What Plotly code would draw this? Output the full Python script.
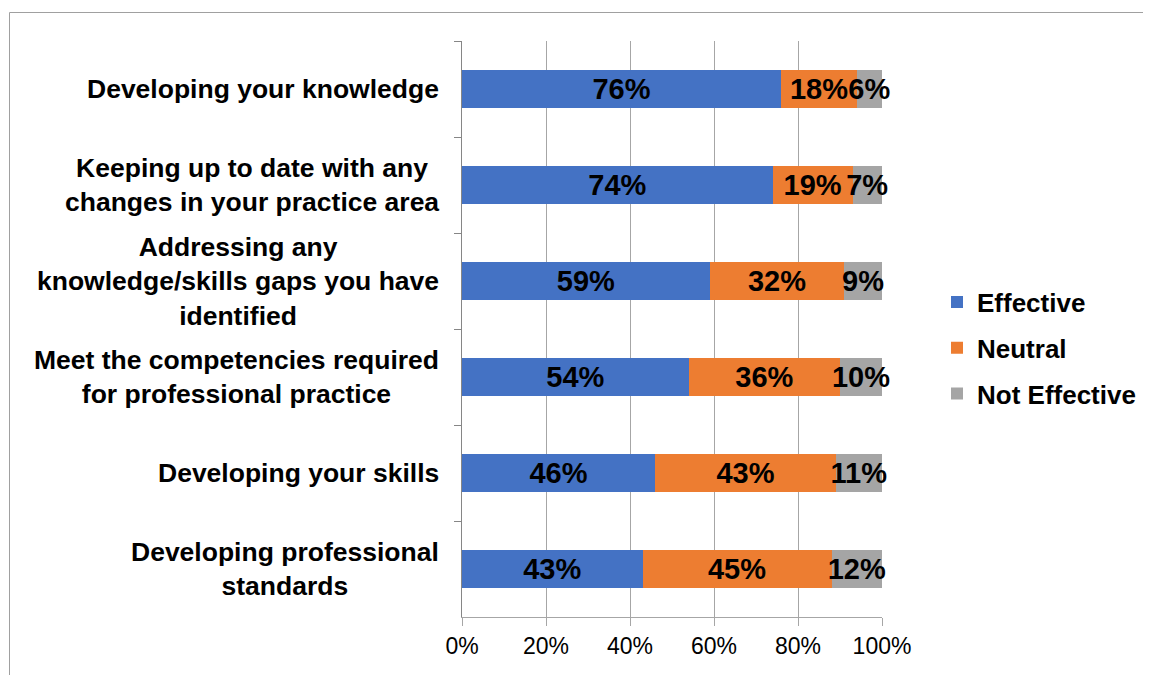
import plotly.graph_objects as go

categories = [
    "Developing your knowledge",
    "Keeping up to date with any<br>changes in your practice area",
    "Addressing any<br>knowledge/skills gaps you have<br>identified",
    "Meet the competencies required<br>for professional practice",
    "Developing your skills",
    "Developing professional<br>standards",
]
effective = [76, 74, 59, 54, 46, 43]
neutral = [18, 19, 32, 36, 43, 45]
not_effective = [6, 7, 9, 10, 11, 12]
series_names = ["Effective", "Neutral", "Not Effective"]
colors = ["#4472C4", "#ED7D31", "#A5A5A5"]
x_ticks = [0, 20, 40, 60, 80, 100]
x_tick_labels = ["0%", "20%", "40%", "60%", "80%", "100%"]

FONT = "Arial, Liberation Sans, sans-serif"

# page body has an 8px margin; target screen positions are offset by it
OFF = 8
W, H = 1151, 675
PL, PR, PT, PB = 462 - OFF, 882 - OFF, 41 - OFF, 617 - OFF
PW, PH = PR - PL, PB - PT

fig = go.Figure()
for name, vals, col in zip(series_names, [effective, neutral, not_effective], colors):
    fig.add_trace(go.Bar(
        y=categories, x=vals, name=name, orientation="h",
        marker=dict(color=col, line=dict(width=0)),
        text=[f"{v}%" for v in vals],
        textposition="inside", insidetextanchor="middle", textangle=0,
        textfont=dict(family=FONT, size=29, color="black", weight="bold"),
        cliponaxis=False, width=0.4, legendgroup=name,
    ))

for c in categories:
    fig.add_annotation(
        x=-21 / PW, xref="paper", y=c, yref="y",
        text=c, showarrow=False, xanchor="right", yanchor="middle", align="center",
        font=dict(family=FONT, size=26.5, color="black", weight="bold"),
    )

# outer chart border
fig.add_shape(type="rect", xref="paper", yref="paper",
              x0=(9.5 - OFF - PL) / PW, x1=2.0, y0=-0.5, y1=1 + (PT - (12.5 - OFF)) / PH,
              line=dict(color="#A0A0A0", width=1), layer="below")

fig.update_layout(
    width=W, height=H,
    margin=dict(l=PL, r=W - PR, t=PT, b=H - PB),
    barmode="stack", bargap=0.6,
    paper_bgcolor="white", plot_bgcolor="white",
    uniformtext=dict(minsize=29, mode="show"),
    showlegend=True,
    legend=dict(
        x=(937 - OFF - PL) / PW, xanchor="left", y=(617 - 348) / 576, yanchor="middle",
        traceorder="grouped", tracegroupgap=9, itemwidth=30,
        font=dict(family=FONT, size=26, color="black", weight="bold"),
        bgcolor="rgba(0,0,0,0)",
    ),
    xaxis=dict(
        range=[0, 100], tickvals=x_ticks, ticktext=x_tick_labels,
        showgrid=True, gridcolor="#A6A6A6", gridwidth=1,
        showline=True, linecolor="#A6A6A6", linewidth=1,
        ticks="outside", ticklen=8, tickcolor="#A6A6A6",
        tickfont=dict(family=FONT, size=23, color="black"),
        zeroline=False, fixedrange=True,
    ),
    yaxis=dict(
        categoryorder="array", categoryarray=categories, autorange="reversed",
        showticklabels=False, showline=True, linecolor="#868686", linewidth=1,
        ticks="outside", ticklen=7, tickcolor="#868686", tickson="boundaries",
        showgrid=False, zeroline=False,
    ),
)

fig.write_html("out.html")
